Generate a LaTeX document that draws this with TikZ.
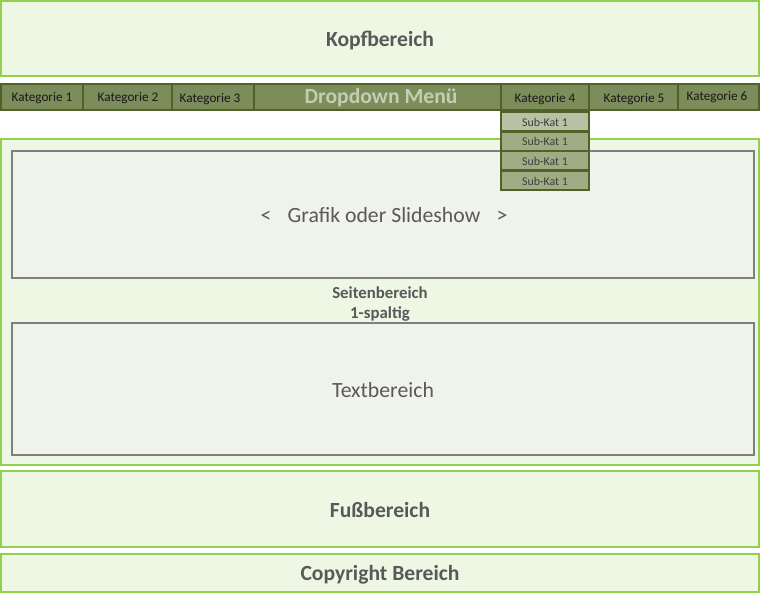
\documentclass[tikz,border=0pt]{standalone}
\usepackage{fontspec}
\setmainfont{Carlito}
\definecolor{lgreen}{HTML}{92D050}
\definecolor{lfill}{HTML}{EEF7E4}
\definecolor{olive}{HTML}{7D8C5B}
\definecolor{dolive}{HTML}{4F6228}
\definecolor{subA}{HTML}{B9C0A4}
\definecolor{subB}{HTML}{A0AC83}
\definecolor{txt}{HTML}{595959}
\definecolor{gborder}{HTML}{7F7F7F}
\definecolor{gfill}{HTML}{F0F2EC}
\definecolor{ddtxt}{HTML}{C3CEB2}
\begin{document}
\begin{tikzpicture}[x=0.75pt,y=-0.75pt,
  section/.style={draw=lgreen,line width=1.6pt,fill=lfill},
  menucell/.style={draw=dolive,line width=1.6pt,fill=olive},
  subcell/.style={draw=dolive,line width=1.6pt},
  inner/.style={draw=gborder,line width=1.4pt,fill=gfill},
  btitle/.style={font=\bfseries\fontsize{16.2}{19}\selectfont,text=txt},
  cattxt/.style={font=\fontsize{9.9}{12}\selectfont,text=black!90},
  subtxt/.style={font=\fontsize{8.9}{10}\selectfont,text=txt!70!black},
  bigtxt/.style={font=\fontsize{16.3}{19}\selectfont,text=txt}]
\useasboundingbox (0,0) rectangle (760,600);
% Header
\draw[section] (1,1) rectangle (759,76);
\node[btitle] (kopf) at (380,40) {Kopfbereich};
% Main page area
\draw[section] (1,139) rectangle (759,465);
\draw[inner] (12,151) rectangle (754,278);
\node[bigtxt] (grafik) at (384,215) {<\hspace{0.75em}Grafik oder Slideshow\hspace{0.75em}>};
\node[font=\bfseries\fontsize{12.6}{14.3}\selectfont,text=txt,align=center] (seiten) at (380,304) {Seitenbereich\\1-spaltig};
\draw[inner] (12,323) rectangle (754,455);
\node[bigtxt] (textb) at (383,390) {Textbereich};
% Menu bar
\draw[menucell] (1,84) rectangle (83,110);
\draw[menucell] (83,84) rectangle (172,110);
\draw[menucell] (172,84) rectangle (254,110);
\draw[menucell] (254,84) rectangle (501,110);
\draw[menucell] (501,84) rectangle (589,110);
\draw[menucell] (589,84) rectangle (678,110);
\draw[menucell] (678,84) rectangle (759,110);
\node[cattxt] (k1) at (42,98) {Kategorie 1};
\node[cattxt] (k2) at (128,98) {Kategorie 2};
\node[cattxt] (k3) at (210,99) {Kategorie 3};
\node[font=\bfseries\fontsize{16.2}{19}\selectfont,text=ddtxt] (dd) at (381,98) {Dropdown Menü};
\node[cattxt] (k4) at (545,99) {Kategorie 4};
\node[cattxt] (k5) at (634,99) {Kategorie 5};
\node[cattxt] (k6) at (717,97) {Kategorie 6};
% Submenu
\draw[subcell,fill=subA] (501,112) rectangle (589,131);
\draw[subcell,fill=subB] (501,132) rectangle (589,151);
\draw[subcell,fill=subB] (501,151) rectangle (589,170);
\draw[subcell,fill=subB] (501,171) rectangle (589,190);
\node[subtxt] (s1) at (545,122) {Sub-Kat 1};
\node[subtxt] (s2) at (545,141) {Sub-Kat 1};
\node[subtxt] (s3) at (545,161) {Sub-Kat 1};
\node[subtxt] (s4) at (545,181) {Sub-Kat 1};
% Footer
\draw[section] (1,471) rectangle (759,547);
\node[btitle] (fuss) at (380,510) {Fußbereich};
\draw[section] (1,554) rectangle (759,592);
\node[btitle] (copy) at (380,575) {Copyright Bereich};
\end{tikzpicture}
\end{document}
